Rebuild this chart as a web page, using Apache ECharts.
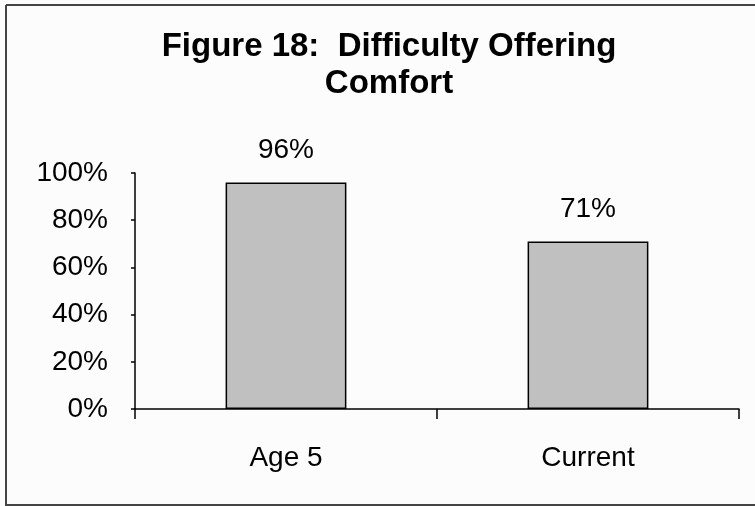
<!DOCTYPE html>
<html>
<head>
<meta charset="utf-8">
<script src="https://cdn.jsdelivr.net/npm/echarts@6/dist/echarts.min.js"></script>
<style>
html,body{margin:0;padding:0;background:#fcfcfc;}
#chart{width:755px;height:506px;}
</style>
</head>
<body>
<div id="chart"></div>
<script>
var categories = ['Age 5', 'Current'];
var values = [96, 71];
var yTicks = [0, 20, 40, 60, 80, 100];
var titleText = 'Figure 18:  Difficulty Offering\nComfort';

var FONT = 'Arial, "Liberation Sans", sans-serif';
var chart = echarts.init(document.getElementById('chart'), null, {renderer: 'canvas'});
chart.setOption({
  backgroundColor: '#fcfcfc',
  animation: false,
  title: {
    text: titleText,
    left: 384,
    textAlign: 'center',
    top: 23,
    textStyle: {fontFamily: FONT, fontSize: 33, fontWeight: 'bold', color: '#000', lineHeight: 37}
  },
  graphic: [
    {type: 'line', shape: {x1: 6, y1: 5, x2: 755, y2: 5}, style: {stroke: '#444', lineWidth: 2}},
    {type: 'line', shape: {x1: 6, y1: 5, x2: 6, y2: 506}, style: {stroke: '#444', lineWidth: 2}},
    {type: 'line', shape: {x1: 6, y1: 505, x2: 755, y2: 505}, style: {stroke: '#444', lineWidth: 2}}
  ],
  grid: {left: 135, right: 16, top: 173, bottom: 97, containLabel: false},
  xAxis: {
    type: 'category',
    data: categories,
    boundaryGap: true,
    axisLine: {lineStyle: {color: '#000', width: 1.5}},
    axisTick: {show: true, length: 10, inside: false, alignWithLabel: false, lineStyle: {color: '#000', width: 1.5}},
    axisLabel: {fontFamily: FONT, fontSize: 28, color: '#000', margin: 35}
  },
  yAxis: {
    type: 'value',
    min: yTicks[0],
    max: yTicks[yTicks.length - 1],
    interval: 20,
    splitLine: {show: false},
    axisLine: {show: true, lineStyle: {color: '#000', width: 1.5}},
    axisTick: {show: true, length: 4, lineStyle: {color: '#000', width: 1.5}},
    axisLabel: {fontFamily: FONT, fontSize: 28, color: '#000', margin: 27, formatter: '{value}%'}
  },
  series: [{
    type: 'bar',
    data: values,
    barWidth: '40%',
    itemStyle: {color: '#c0c0c0', borderColor: '#000', borderWidth: 1.5},
    label: {show: true, position: 'top', distance: 18, formatter: '{c}%', fontFamily: FONT, fontSize: 28, color: '#000'}
  }]
});
</script>
</body>
</html>
